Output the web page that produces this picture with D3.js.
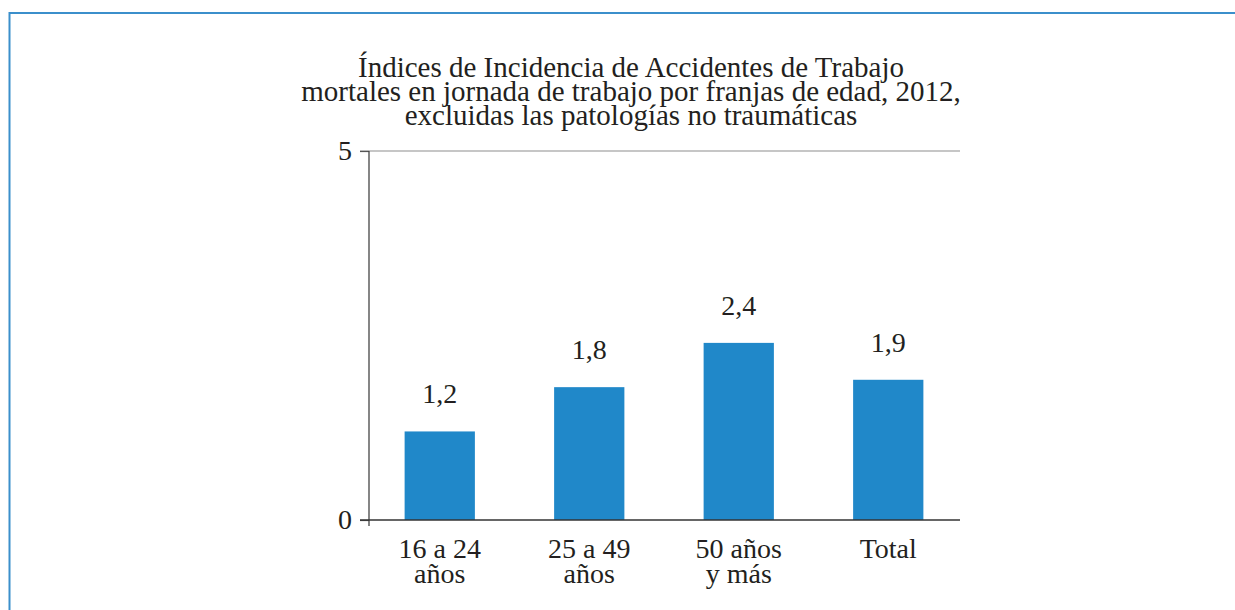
<!DOCTYPE html>
<meta charset="utf-8">
<script src="https://d3js.org/d3.v7.min.js"></script>
<style>
  body { margin: 0; background: #fff; }
  text { font-family: "Liberation Serif", "DejaVu Serif", serif; fill: #231f20; }
</style>
<body>
<div id="chart"></div>
<script>
  // data
  var categories = [["16 a 24", "años"], ["25 a 49", "años"], ["50 años", "y más"], ["Total"]];
  var values = [1.2, 1.8, 2.4, 1.9];
  var valueLabels = ["1,2", "1,8", "2,4", "1,9"];
  var yTicks = [0, 5];
  var titleLines = [
    "Índices de Incidencia de Accidentes de Trabajo",
    "mortales en jornada de trabajo por franjas de edad, 2012,",
    "excluidas las patologías no traumáticas"
  ];

  var W = 1235, H = 610;
  var svg = d3.select("#chart").append("svg")
    .attr("width", W).attr("height", H);

  // blue frame, runs off the right and bottom edges
  svg.append("rect")
    .attr("x", 9.5).attr("y", 13)
    .attr("width", W).attr("height", H)
    .attr("fill", "none")
    .attr("stroke", "#3b8fcb")
    .attr("stroke-width", 2);

  var x = d3.scaleBand()
    .domain(d3.range(categories.length))
    .range([365, 963])
    .paddingInner(0.53)
    .paddingOuter(0.265);

  var y = d3.scaleLinear()
    .domain([0, 5])
    .range([520, 151]);

  // title
  var title = svg.append("text")
    .attr("text-anchor", "middle")
    .style("font-size", "29px");
  title.selectAll("tspan")
    .data(titleLines)
    .enter().append("tspan")
    .attr("x", 631)
    .attr("y", function(d, i) { return 77 + i * 24; })
    .text(function(d) { return d; });

  // top gridline at 5
  svg.append("line")
    .attr("x1", 360).attr("x2", 960)
    .attr("y1", y(5)).attr("y2", y(5))
    .attr("stroke", "#b3b3b3").attr("stroke-width", 1.5);

  // y axis
  var yAxis = svg.append("g")
    .attr("transform", "translate(369,0)")
    .call(d3.axisLeft(y).tickValues(yTicks).tickSize(9).tickPadding(8).tickFormat(d3.format("d")));
  yAxis.select(".domain").remove();
  yAxis.selectAll(".tick line").attr("stroke", "#555").attr("stroke-width", 1.2);
  yAxis.selectAll(".tick text")
    .style("font-size", "28px")
    .style("font-family", "Liberation Serif, serif")
    .attr("fill", "#231f20");
  svg.append("line")
    .attr("x1", 369).attr("x2", 369)
    .attr("y1", y(5)).attr("y2", y(0) + 6)
    .attr("stroke", "#444").attr("stroke-width", 1.3);

  // bars
  svg.selectAll(".bar")
    .data(values)
    .enter().append("rect")
    .attr("class", "bar")
    .attr("x", function(d, i) { return x(i); })
    .attr("width", x.bandwidth())
    .attr("y", function(d) { return y(d); })
    .attr("height", function(d) { return y(0) - y(d); })
    .attr("fill", "#2088c9");

  // value labels
  svg.selectAll(".val")
    .data(values)
    .enter().append("text")
    .attr("class", "val")
    .attr("text-anchor", "middle")
    .attr("x", function(d, i) { return x(i) + x.bandwidth() / 2; })
    .attr("y", function(d) { return y(d) - 28; })
    .style("font-size", "28px")
    .text(function(d, i) { return valueLabels[i]; });

  // baseline
  svg.append("line")
    .attr("x1", 360).attr("x2", 960)
    .attr("y1", y(0)).attr("y2", y(0))
    .attr("stroke", "#333").attr("stroke-width", 1.5);

  // category labels
  var cat = svg.selectAll(".cat")
    .data(categories)
    .enter().append("text")
    .attr("class", "cat")
    .attr("text-anchor", "middle")
    .style("font-size", "28px");
  cat.selectAll("tspan")
    .data(function(d, i) { return d.map(function(s) { return { s: s, i: i }; }); })
    .enter().append("tspan")
    .attr("x", function(d) { return x(d.i) + x.bandwidth() / 2; })
    .attr("y", function(d, j) { return 558 + j * 25; })
    .text(function(d) { return d.s; });
</script>
</body>
